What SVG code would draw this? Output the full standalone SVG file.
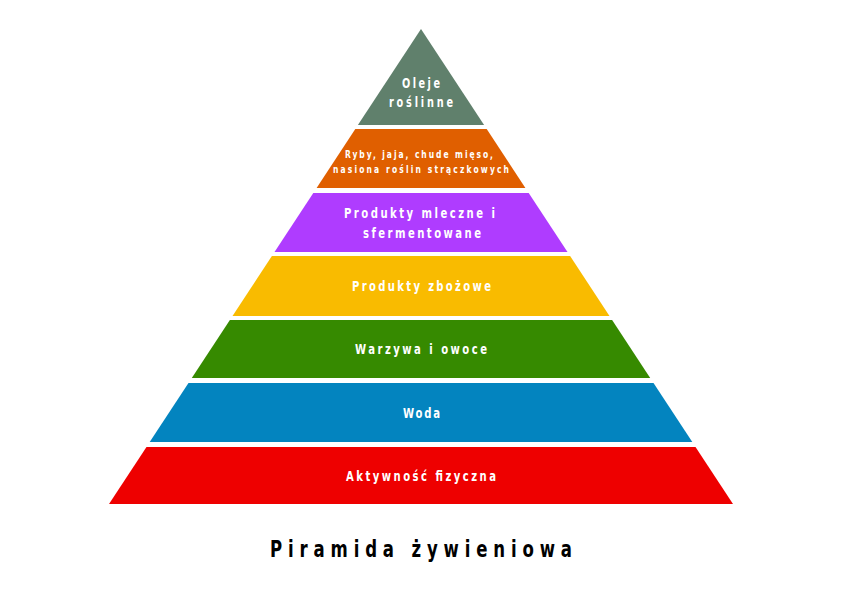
<svg xmlns="http://www.w3.org/2000/svg" width="842" height="595" viewBox="0 0 842 595">
<style>
.lbl{font-family:'DejaVu Sans Condensed','DejaVu Sans',sans-serif;font-stretch:condensed;font-weight:bold;fill:#ffffff;text-anchor:middle}
.t{font-family:'DejaVu Sans Condensed','DejaVu Sans',sans-serif;font-stretch:condensed;font-weight:bold;fill:#000000;text-anchor:middle}
</style>
<rect width="842" height="595" fill="#ffffff"/>
<g id="layer-oleje">
<polygon points="421,29 484.1,125 357.9,125" fill="#60806C"/>
<text class="lbl" transform="translate(421 88) scale(0.8 1)" font-size="13.5" textLength="47.5" lengthAdjust="spacing">Oleje</text>
<text class="lbl" transform="translate(421 107) scale(0.8 1)" font-size="13.5" textLength="80" lengthAdjust="spacing">roślinne</text>
</g>
<g id="layer-ryby">
<polygon points="355.3,129 486.7,129 525.4,188 316.6,188" fill="#E05F00"/>
<text class="lbl" transform="translate(419 158) scale(0.8 1)" font-size="10.5" textLength="185" lengthAdjust="spacing">Ryby, jaja, chude mięso,</text>
<text class="lbl" transform="translate(421 173) scale(0.8 1)" font-size="10.5" textLength="220" lengthAdjust="spacing">nasiona roślin strączkowych</text>
</g>
<g id="layer-mleczne">
<polygon points="313.3,193 528.7,193 567.5,252 274.5,252" fill="#AF3CFF"/>
<text class="lbl" transform="translate(419.5 218) scale(0.8 1)" font-size="14" textLength="188.75" lengthAdjust="spacing">Produkty mleczne i</text>
<text class="lbl" transform="translate(422 238) scale(0.8 1)" font-size="14" textLength="147.5" lengthAdjust="spacing">sfermentowane</text>
</g>
<g id="layer-zbozowe">
<polygon points="271.9,256 570.1,256 609.5,316 232.5,316" fill="#F9BB00"/>
<text class="lbl" transform="translate(421.5 291) scale(0.8 1)" font-size="14" textLength="173.75" lengthAdjust="spacing">Produkty zbożowe</text>
</g>
<g id="layer-warzywa">
<polygon points="229.9,320 612.1,320 650.2,378 191.8,378" fill="#368A00"/>
<text class="lbl" transform="translate(421 354) scale(0.8 1)" font-size="14" textLength="165" lengthAdjust="spacing">Warzywa i owoce</text>
</g>
<g id="layer-woda">
<polygon points="188.5,383 653.5,383 692.3,442 149.7,442" fill="#0384BF"/>
<text class="lbl" transform="translate(421.5 418) scale(0.8 1)" font-size="14" textLength="46.25" lengthAdjust="spacing">Woda</text>
</g>
<g id="layer-aktywnosc">
<polygon points="146.5,447 695.5,447 733,504 109,504" fill="#EE0000"/>
<text class="lbl" transform="translate(421 481) scale(0.8 1)" font-size="14" textLength="187.5" lengthAdjust="spacing">Aktywność fizyczna</text>
</g>
<g id="connectors"></g>
<g id="title">
<text class="t" transform="translate(421 557) scale(0.8 1)" font-size="23" textLength="377.5" lengthAdjust="spacing">Piramida żywieniowa</text>
</g>
</svg>
